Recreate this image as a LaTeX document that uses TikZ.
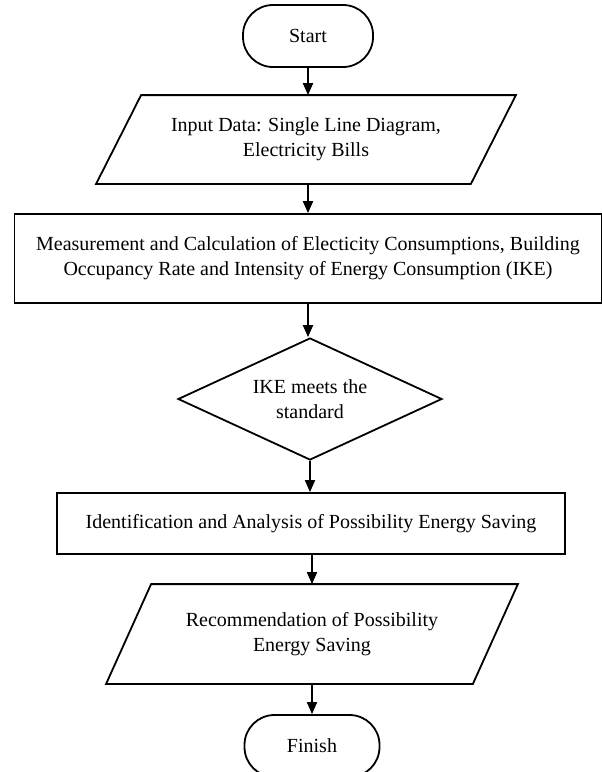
\documentclass[tikz,border=0pt]{standalone}
\usepackage{fontspec}
\setmainfont{Liberation Serif}
\usetikzlibrary{shapes.geometric,arrows.meta}
\begin{document}
\begin{tikzpicture}[x=1pt,y=-1pt,
  every node/.style={font=\fontsize{20}{25}\selectfont, align=center, line width=1.8pt, inner sep=0pt},
  terminal/.style={draw, rectangle, rounded corners=30pt, minimum height=62pt},
  process/.style={draw, rectangle},
  iotext/.style={rectangle},
  ioline/.style={line width=1.8pt, line join=miter},
  decision/.style={draw, diamond, aspect=2.16, minimum width=264pt, minimum height=122pt},
  flow/.style={line width=1.8pt, -{Triangle[width=10pt,length=12pt]}}
]
\useasboundingbox (0,0) rectangle (602,772);
\fill[white] (0,0) rectangle (602,772);

\node[terminal, minimum width=130pt] (start) at (308,36) {Start};
\node[iotext, minimum width=418pt, minimum height=87pt] (input) at (306,139.5)
      {Input Data: Single Line Diagram,\\Electricity Bills};
\draw[ioline] (input.south west) -- ([xshift=45pt]input.north west) -- (input.north east)
      -- ([xshift=-45pt]input.south east) -- cycle;
\node[process, minimum width=587pt, minimum height=89pt] (measure) at (308,258.5)
      {Measurement and Calculation of Electicity Consumptions, Building\\Occupancy Rate and Intensity of Energy Consumption (IKE)};
\node[decision] (ike) at (310,399) {IKE meets the\\standard};
\node[process, minimum width=508pt, minimum height=61pt] (ident) at (311,523.5)
      {Identification and Analysis of Possibility Energy Saving};
\node[iotext, minimum width=410pt, minimum height=98pt] (recom) at (312,634)
      {Recommendation of Possibility\\Energy Saving};
\draw[ioline] (recom.south west) -- ([xshift=45pt]recom.north west) -- (recom.north east)
      -- ([xshift=-45pt]recom.south east) -- cycle;
\node[terminal, minimum width=135pt] (finish) at (312,746) {Finish};

\draw[flow] (start.south) -- (start.south |- input.north);
\draw[flow] (start.south |- input.south) -- (start.south |- measure.north);
\draw[flow] (measure.south) -- (measure.south |- ike.north);
\draw[flow] (ike.south) -- (ike.south |- ident.north);
\draw[flow] (recom.north |- ident.south) -- (recom.north);
\draw[flow] (recom.south) -- (finish.north);
\end{tikzpicture}
\end{document}
